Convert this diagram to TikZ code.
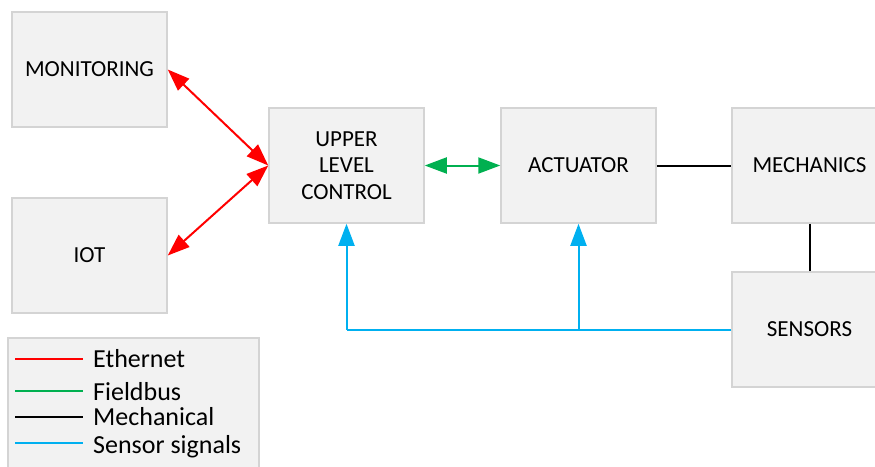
\documentclass[tikz,border=0pt]{standalone}
\usepackage{fontspec}
\setmainfont{Carlito}
\usetikzlibrary{arrows.meta}
\definecolor{boxfill}{HTML}{F2F2F2}
\definecolor{boxline}{HTML}{D4D4D4}
\definecolor{ethred}{HTML}{FF0000}
\definecolor{fbgreen}{HTML}{00B050}
\definecolor{sigblue}{HTML}{00B0F0}
\tikzset{
  block/.style={draw=boxline, line width=1.5pt, fill=boxfill,
    minimum width=155pt, minimum height=115pt, inner sep=0pt,
    align=center, font=\fontsize{23}{26.5}\selectfont},
  link/.style={line width=2pt},
  tip/.style={-{Triangle[length=22pt,width=16pt]}},
  bitip/.style={{Triangle[length=22pt,width=16pt]}-{Triangle[length=22pt,width=16pt]}},
  legtext/.style={anchor=base west, inner sep=0pt, font=\fontsize{26}{30}\selectfont}
}
\begin{document}
\begin{tikzpicture}[x=1pt,y=-1pt]
  \useasboundingbox (0,0) rectangle (875,466);
  \clip (0,0) rectangle (875,466);

  % function blocks
  \node[block] (mon)  at (89.5,69.5)   {MONITORING};
  \node[block] (iot)  at (89.5,255.5)  {IOT};
  \node[block] (ulc)  at (346.5,165.5) {UPPER\\LEVEL\\CONTROL};
  \node[block] (act)  at (578.5,165.5) {ACTUATOR};
  \node[block] (mech) at (809.5,165.5) {MECHANICS};
  \node[block] (sens) at (809.5,329.5) {SENSORS};

  % Ethernet links
  \draw[link, ethred, bitip] (mon.east) -- (ulc.west);
  \draw[link, ethred, bitip] (iot.east) -- (ulc.west);

  % Fieldbus link
  \draw[link, fbgreen, bitip] (ulc.east) -- (act.west);

  % mechanical couplings
  \draw[link, black] (act.east) -- (mech.west);
  \draw[link, black] (mech.south) -- (sens.north);

  % sensor signal feedback
  \coordinate (j1) at (ulc.south |- sens.west);
  \coordinate (j2) at (act.south |- sens.west);
  \draw[link, sigblue] (sens.west) -- (j1);
  \draw[link, sigblue, tip] (j1) -- (ulc.south);
  \draw[link, sigblue, tip] (j2) -- (act.south);

  % legend
  \node[draw=boxline, line width=1.5pt, fill=boxfill, minimum width=251pt,
        minimum height=140pt, inner sep=0pt] (leg) at (133.5,408) {};
  \coordinate (l1a) at (15,359);  \coordinate (l1b) at (83,359);
  \coordinate (l2a) at (15,391);  \coordinate (l2b) at (83,391);
  \coordinate (l3a) at (15,417);  \coordinate (l3b) at (83,417);
  \coordinate (l4a) at (15,443);  \coordinate (l4b) at (83,443);
  \draw[link, ethred]  (l1a) -- (l1b);
  \draw[link, fbgreen] (l2a) -- (l2b);
  \draw[link, black]   (l3a) -- (l3b);
  \draw[link, sigblue] (l4a) -- (l4b);
  \node[legtext] (t1) at (93,367) {Ethernet};
  \node[legtext] (t2) at (93,400) {Fieldbus};
  \node[legtext] (t3) at (93,425) {Mechanical};
  \node[legtext] (t4) at (93,453) {Sensor signals};
\end{tikzpicture}
\end{document}
